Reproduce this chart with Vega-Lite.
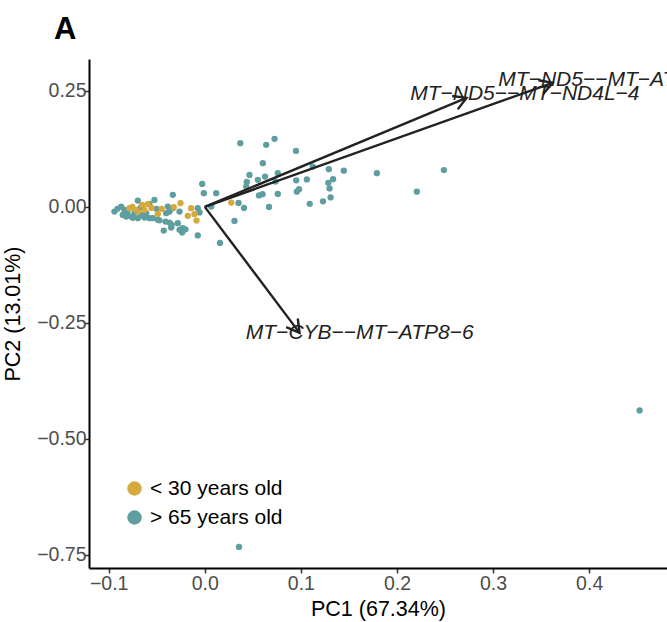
{
  "$schema": "https://vega.github.io/schema/vega-lite/v6.json",
  "width": 578,
  "height": 509,
  "autosize": {"type": "none"},
  "padding": {"left": 89, "top": 59, "right": 0, "bottom": 54},
  "background": "white",
  "title": {"text": "A", "anchor": "start", "frame": "group", "fontSize": 31, "fontWeight": "bold", "font": "Liberation Sans", "color": "black", "dx": -35, "offset": 13},
  "config": {"view": {"stroke": null}, "font": "Liberation Sans"},
  "datasets": {
    "scores": [
      {"PC1": -0.0940, "PC2": -0.0101, "group": "> 65 years old"},
      {"PC1": -0.0870, "PC2": 0.0006, "group": "> 65 years old"},
      {"PC1": -0.0854, "PC2": -0.0173, "group": "> 65 years old"},
      {"PC1": -0.0818, "PC2": -0.0209, "group": "> 65 years old"},
      {"PC1": -0.0805, "PC2": -0.0108, "group": "> 65 years old"},
      {"PC1": -0.0766, "PC2": -0.0209, "group": "> 65 years old"},
      {"PC1": -0.0750, "PC2": -0.0237, "group": "> 65 years old"},
      {"PC1": -0.0697, "PC2": 0.0136, "group": "> 65 years old"},
      {"PC1": -0.0697, "PC2": -0.0244, "group": "> 65 years old"},
      {"PC1": -0.0659, "PC2": -0.0173, "group": "> 65 years old"},
      {"PC1": -0.0628, "PC2": -0.0231, "group": "> 65 years old"},
      {"PC1": -0.0576, "PC2": -0.0244, "group": "> 65 years old"},
      {"PC1": -0.0610, "PC2": -0.0136, "group": "> 65 years old"},
      {"PC1": -0.0576, "PC2": 0.0065, "group": "> 65 years old"},
      {"PC1": -0.0524, "PC2": 0.0151, "group": "> 65 years old"},
      {"PC1": -0.0541, "PC2": -0.0244, "group": "> 65 years old"},
      {"PC1": -0.0489, "PC2": -0.0280, "group": "> 65 years old"},
      {"PC1": -0.0472, "PC2": -0.0291, "group": "> 65 years old"},
      {"PC1": -0.0427, "PC2": -0.0511, "group": "> 65 years old"},
      {"PC1": -0.0402, "PC2": -0.0136, "group": "> 65 years old"},
      {"PC1": -0.0409, "PC2": -0.0317, "group": "> 65 years old"},
      {"PC1": -0.0385, "PC2": 0.0006, "group": "> 65 years old"},
      {"PC1": -0.0367, "PC2": -0.0101, "group": "> 65 years old"},
      {"PC1": -0.0367, "PC2": -0.0339, "group": "> 65 years old"},
      {"PC1": -0.0344, "PC2": -0.0388, "group": "> 65 years old"},
      {"PC1": -0.0350, "PC2": -0.0447, "group": "> 65 years old"},
      {"PC1": -0.0333, "PC2": 0.0259, "group": "> 65 years old"},
      {"PC1": -0.0333, "PC2": -0.0028, "group": "> 65 years old"},
      {"PC1": -0.0281, "PC2": -0.0352, "group": "> 65 years old"},
      {"PC1": -0.0263, "PC2": -0.0101, "group": "> 65 years old"},
      {"PC1": -0.0263, "PC2": -0.0496, "group": "> 65 years old"},
      {"PC1": -0.0229, "PC2": -0.0460, "group": "> 65 years old"},
      {"PC1": -0.0235, "PC2": -0.0554, "group": "> 65 years old"},
      {"PC1": -0.0201, "PC2": -0.0485, "group": "> 65 years old"},
      {"PC1": -0.0073, "PC2": -0.0028, "group": "> 65 years old"},
      {"PC1": -0.0055, "PC2": -0.0119, "group": "> 65 years old"},
      {"PC1": -0.0073, "PC2": -0.0615, "group": "> 65 years old"},
      {"PC1": -0.0027, "PC2": 0.0496, "group": "> 65 years old"},
      {"PC1": -0.0010, "PC2": 0.0296, "group": "> 65 years old"},
      {"PC1": 0.0067, "PC2": 0.0006, "group": "> 65 years old"},
      {"PC1": 0.0119, "PC2": 0.0296, "group": "> 65 years old"},
      {"PC1": 0.0158, "PC2": -0.0777, "group": "> 65 years old"},
      {"PC1": 0.0309, "PC2": -0.0302, "group": "> 65 years old"},
      {"PC1": 0.0351, "PC2": 0.0086, "group": "> 65 years old"},
      {"PC1": 0.0408, "PC2": -0.0022, "group": "> 65 years old"},
      {"PC1": -0.0503, "PC2": -0.0043, "group": "> 65 years old"},
      {"PC1": -0.0909, "PC2": -0.0043, "group": "> 65 years old"},
      {"PC1": -0.0836, "PC2": -0.0065, "group": "> 65 years old"},
      {"PC1": -0.0731, "PC2": -0.0129, "group": "> 65 years old"},
      {"PC1": -0.0669, "PC2": -0.0022, "group": "> 65 years old"},
      {"PC1": 0.0369, "PC2": 0.1374, "group": "> 65 years old"},
      {"PC1": 0.0639, "PC2": 0.1338, "group": "> 65 years old"},
      {"PC1": 0.0726, "PC2": 0.1467, "group": "> 65 years old"},
      {"PC1": 0.0949, "PC2": 0.1208, "group": "> 65 years old"},
      {"PC1": 0.0604, "PC2": 0.0943, "group": "> 65 years old"},
      {"PC1": 0.1124, "PC2": 0.0869, "group": "> 65 years old"},
      {"PC1": 0.1291, "PC2": 0.0813, "group": "> 65 years old"},
      {"PC1": 0.1447, "PC2": 0.0781, "group": "> 65 years old"},
      {"PC1": 0.1791, "PC2": 0.0727, "group": "> 65 years old"},
      {"PC1": 0.2488, "PC2": 0.0794, "group": "> 65 years old"},
      {"PC1": 0.2207, "PC2": 0.0328, "group": "> 65 years old"},
      {"PC1": 0.0465, "PC2": 0.0690, "group": "> 65 years old"},
      {"PC1": 0.0437, "PC2": 0.0539, "group": "> 65 years old"},
      {"PC1": 0.0552, "PC2": 0.0583, "group": "> 65 years old"},
      {"PC1": 0.0627, "PC2": 0.0654, "group": "> 65 years old"},
      {"PC1": 0.0760, "PC2": 0.0727, "group": "> 65 years old"},
      {"PC1": 0.0736, "PC2": 0.0546, "group": "> 65 years old"},
      {"PC1": 0.0951, "PC2": 0.0572, "group": "> 65 years old"},
      {"PC1": 0.1062, "PC2": 0.0593, "group": "> 65 years old"},
      {"PC1": 0.1285, "PC2": 0.0518, "group": "> 65 years old"},
      {"PC1": 0.1335, "PC2": 0.0598, "group": "> 65 years old"},
      {"PC1": 0.1298, "PC2": 0.0399, "group": "> 65 years old"},
      {"PC1": 0.0981, "PC2": 0.0382, "group": "> 65 years old"},
      {"PC1": 0.0958, "PC2": 0.0328, "group": "> 65 years old"},
      {"PC1": 0.0760, "PC2": 0.0280, "group": "> 65 years old"},
      {"PC1": 0.0601, "PC2": 0.0274, "group": "> 65 years old"},
      {"PC1": 0.0564, "PC2": 0.0248, "group": "> 65 years old"},
      {"PC1": 0.0431, "PC2": 0.0438, "group": "> 65 years old"},
      {"PC1": 0.1230, "PC2": 0.0119, "group": "> 65 years old"},
      {"PC1": 0.1309, "PC2": 0.0205, "group": "> 65 years old"},
      {"PC1": 0.1092, "PC2": 0.0065, "group": "> 65 years old"},
      {"PC1": 0.0668, "PC2": 0.0000, "group": "> 65 years old"},
      {"PC1": 0.4525, "PC2": -0.4391, "group": "> 65 years old"},
      {"PC1": 0.0356, "PC2": -0.7335, "group": "> 65 years old"},
      {"PC1": -0.0784, "PC2": -0.0028, "group": "< 30 years old"},
      {"PC1": -0.0714, "PC2": -0.0065, "group": "< 30 years old"},
      {"PC1": -0.0697, "PC2": -0.0101, "group": "< 30 years old"},
      {"PC1": -0.0652, "PC2": 0.0043, "group": "< 30 years old"},
      {"PC1": -0.0628, "PC2": -0.0065, "group": "< 30 years old"},
      {"PC1": -0.0593, "PC2": 0.0058, "group": "< 30 years old"},
      {"PC1": -0.0489, "PC2": -0.0151, "group": "< 30 years old"},
      {"PC1": -0.0448, "PC2": -0.0043, "group": "< 30 years old"},
      {"PC1": -0.0323, "PC2": -0.0006, "group": "< 30 years old"},
      {"PC1": -0.0253, "PC2": 0.0080, "group": "< 30 years old"},
      {"PC1": -0.0177, "PC2": -0.0194, "group": "< 30 years old"},
      {"PC1": -0.0142, "PC2": -0.0028, "group": "< 30 years old"},
      {"PC1": -0.0107, "PC2": -0.0157, "group": "< 30 years old"},
      {"PC1": -0.0086, "PC2": -0.0296, "group": "< 30 years old"},
      {"PC1": 0.0275, "PC2": 0.0093, "group": "< 30 years old"},
      {"PC1": -0.0753, "PC2": 0.0000, "group": "< 30 years old"},
      {"PC1": -0.0555, "PC2": -0.0022, "group": "< 30 years old"}
    ],
    "loadings": [
      {"id": "a1", "PC1": 0.362, "PC2": 0.2675},
      {"id": "a2", "PC1": 0.2724, "PC2": 0.2352},
      {"id": "a3", "PC1": 0.0986, "PC2": -0.2718}
    ],
    "labels": [
      {"name": "MT−ND5−−MT−ATP8−6", "PC1": 0.4234, "PC2": 0.274},
      {"name": "MT−ND5−−MT−ND4L−4", "PC1": 0.3331, "PC2": 0.2430},
      {"name": "MT−CYB−−MT−ATP8−6", "PC1": 0.1612, "PC2": -0.2714}
    ]
  },
  "layer": [
    {
      "data": {"name": "scores"},
      "mark": {"type": "circle", "size": 40, "opacity": 1},
      "encoding": {
        "x": {
          "field": "PC1", "type": "quantitative", "title": "PC1 (67.34%)",
          "scale": {"domain": [-0.1205, 0.481], "nice": false, "zero": false},
          "axis": {
            "values": [-0.1, 0, 0.1, 0.2, 0.3, 0.4], "format": ".1f", "grid": false,
            "domainColor": "black", "domainWidth": 2, "tickColor": "#333333", "tickWidth": 1.5, "tickSize": 5,
            "labelColor": "#4D4D4D", "labelFontSize": 19.5, "labelPadding": 1, "labelFont": "Liberation Sans",
            "labelOverlap": false, "labelFlush": false, "labelBound": false,
            "titleFont": "Liberation Sans", "titleFontSize": 21.5, "titleColor": "black", "titleFontWeight": "normal",
            "titleX": 289, "titleY": 41, "titleBaseline": "middle", "titleAlign": "center"
          }
        },
        "y": {
          "field": "PC2", "type": "quantitative", "title": "PC2 (13.01%)",
          "scale": {"domain": [-0.779, 0.319], "nice": false, "zero": false},
          "axis": {
            "values": [0.25, 0, -0.25, -0.5, -0.75], "format": ".2f", "grid": false,
            "domainColor": "black", "domainWidth": 2, "tickColor": "#333333", "tickWidth": 1.5, "tickSize": 5,
            "labelColor": "#4D4D4D", "labelFontSize": 19.5, "labelPadding": -2, "labelFont": "Liberation Sans",
            "labelOverlap": false, "labelFlush": false, "labelBound": false,
            "titleFont": "Liberation Sans", "titleFontSize": 21.5, "titleColor": "black", "titleFontWeight": "normal",
            "titleX": -76, "titleY": 254.5, "titleAngle": -90, "titleBaseline": "middle", "titleAlign": "center"
          }
        },
        "color": {
          "field": "group", "type": "nominal",
          "scale": {"domain": ["< 30 years old", "> 65 years old"], "range": ["#D5A93D", "#5F9EA0"]},
          "legend": {
            "title": null, "orient": "none", "legendX": 35, "legendY": 419, "padding": 0,
            "symbolType": "circle", "symbolSize": 210, "symbolOpacity": 1, "symbolStrokeWidth": 0,
            "labelFontSize": 21, "labelColor": "black", "labelFont": "Liberation Sans", "labelOffset": 5, "rowPadding": 7
          }
        }
      }
    },
    {
      "data": {"name": "loadings"},
      "mark": {"type": "rule", "color": "#222222", "strokeWidth": 2.4},
      "encoding": {
        "x": {"field": "PC1", "type": "quantitative", "title": "PC1 (67.34%)"},
        "y": {"field": "PC2", "type": "quantitative", "title": "PC2 (13.01%)"},
        "x2": {"datum": 0},
        "y2": {"datum": 0}
      }
    },
    {
      "data": {"name": "loadings"},
      "transform": [{"filter": "datum.id === 'a1'"}],
      "mark": {"type": "point", "shape": "M -1.732 -1 L 0 0 L -1.732 1", "filled": false, "size": 210, "stroke": "#222222", "strokeWidth": 2.4, "opacity": 1, "angle": -19.6},
      "encoding": {
        "x": {"field": "PC1", "type": "quantitative", "title": "PC1 (67.34%)"},
        "y": {"field": "PC2", "type": "quantitative", "title": "PC2 (13.01%)"}
      }
    },
    {
      "data": {"name": "loadings"},
      "transform": [{"filter": "datum.id === 'a2'"}],
      "mark": {"type": "point", "shape": "M -1.732 -1 L 0 0 L -1.732 1", "filled": false, "size": 210, "stroke": "#222222", "strokeWidth": 2.4, "opacity": 1, "angle": -22.6},
      "encoding": {
        "x": {"field": "PC1", "type": "quantitative", "title": "PC1 (67.34%)"},
        "y": {"field": "PC2", "type": "quantitative", "title": "PC2 (13.01%)"}
      }
    },
    {
      "data": {"name": "loadings"},
      "transform": [{"filter": "datum.id === 'a3'"}],
      "mark": {"type": "point", "shape": "M -1.732 -1 L 0 0 L -1.732 1", "filled": false, "size": 210, "stroke": "#222222", "strokeWidth": 2.4, "opacity": 1, "angle": 53.1},
      "encoding": {
        "x": {"field": "PC1", "type": "quantitative", "title": "PC1 (67.34%)"},
        "y": {"field": "PC2", "type": "quantitative", "title": "PC2 (13.01%)"}
      }
    },
    {
      "data": {"name": "labels"},
      "mark": {"type": "text", "fontStyle": "italic", "fontSize": 21, "color": "#222222", "baseline": "middle", "align": "center", "font": "Liberation Sans"},
      "encoding": {
        "x": {"field": "PC1", "type": "quantitative", "title": "PC1 (67.34%)"},
        "y": {"field": "PC2", "type": "quantitative", "title": "PC2 (13.01%)"},
        "text": {"field": "name"}
      }
    }
  ]
}
